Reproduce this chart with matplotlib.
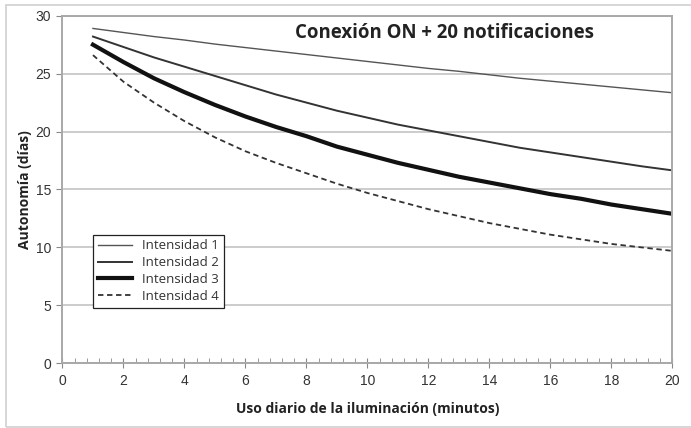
import matplotlib
matplotlib.use('Agg')
import matplotlib.pyplot as plt
from matplotlib.patches import Rectangle
from matplotlib.ticker import MultipleLocator

# datos
minutos = list(range(1, 21))
intensidad_1 = [28.9, 28.55, 28.2, 27.9, 27.55, 27.25, 26.95, 26.65, 26.35, 26.05,
                25.75, 25.45, 25.2, 24.9, 24.6, 24.35, 24.1, 23.85, 23.6, 23.35]
intensidad_2 = [28.2, 27.3, 26.4, 25.6, 24.8, 24.0, 23.2, 22.5, 21.8, 21.2,
                20.6, 20.1, 19.6, 19.1, 18.6, 18.2, 17.8, 17.4, 17.0, 16.65]
intensidad_3 = [27.5, 26.0, 24.6, 23.4, 22.3, 21.3, 20.4, 19.6, 18.7, 18.0,
                17.3, 16.7, 16.1, 15.6, 15.1, 14.6, 14.2, 13.7, 13.3, 12.9]
intensidad_4 = [26.6, 24.3, 22.5, 20.9, 19.5, 18.3, 17.3, 16.4, 15.5, 14.7,
                14.0, 13.3, 12.7, 12.1, 11.6, 11.1, 10.7, 10.3, 10.0, 9.7]
etiquetas = ['Intensidad 1', 'Intensidad 2', 'Intensidad 3', 'Intensidad 4']
titulo = 'Conexión ON + 20 notificaciones'

fig = plt.figure(figsize=(6.91, 4.28), dpi=100)
ax = fig.add_axes([0.0904, 0.1512, 0.8828, 0.8121])

# marco exterior gris claro
fig.patches.append(Rectangle((6 / 691, 1 / 428), 1.0, 422 / 428, transform=fig.transFigure,
                             fill=False, edgecolor='#d0d0d0', linewidth=1.2))

ax.plot(minutos, intensidad_1, color='#555555', lw=1.0, label=etiquetas[0])
ax.plot(minutos, intensidad_2, color='#333333', lw=1.4, label=etiquetas[1])
ax.plot(minutos, intensidad_3, color='#111111', lw=3.0, label=etiquetas[2])
ax.plot(minutos, intensidad_4, color='#333333', lw=1.3, ls=(0, (3, 2)), label=etiquetas[3])

ax.set_xlim(0, 20)
ax.set_ylim(0, 30)
ax.xaxis.set_major_locator(MultipleLocator(2))
ax.xaxis.set_minor_locator(MultipleLocator(0.4))
ax.yaxis.set_major_locator(MultipleLocator(5))
ax.grid(axis='y', color='#c4c4c4', lw=1.2)
ax.set_axisbelow(True)

for s in ax.spines.values():
    s.set_color('#a8a8a8')
    s.set_linewidth(1.4)

ax.tick_params(axis='x', which='major', direction='inout', length=7, color='#888888',
               labelsize=10, labelcolor='#333333', pad=4)
ax.tick_params(axis='x', which='minor', direction='in', length=3.5, color='#888888')
ax.tick_params(axis='y', which='major', direction='out', length=4, color='#888888',
               labelsize=10, labelcolor='#333333', pad=4)
for t in ax.get_xticklabels() + ax.get_yticklabels():
    t.set_fontfamily('Liberation Sans')

ax.set_xlabel('Uso diario de la iluminación (minutos)', fontfamily='Open Sans',
              fontweight='bold', fontsize=10, color='#222222', labelpad=10)
ax.set_ylabel('Autonomía (días)', fontfamily='Open Sans', fontweight='bold',
              fontsize=10, color='#222222', labelpad=3)

ax.text(0.627, 0.978, titulo, transform=ax.transAxes, ha='center', va='top',
        fontfamily='Open Sans', fontweight='bold', fontsize=13.4, color='#222222')

leg = ax.legend(loc='lower left', bbox_to_anchor=(0.05, 0.16), fancybox=False,
                framealpha=1, edgecolor='#222222', handlelength=2.6, borderpad=0.35,
                labelspacing=0.3, handletextpad=0.8, borderaxespad=0,
                prop={'family': 'Open Sans', 'size': 9.5})
leg.get_frame().set_linewidth(0.9)
for t in leg.get_texts():
    t.set_color('#333333')

fig.savefig('out.png', dpi=100)
